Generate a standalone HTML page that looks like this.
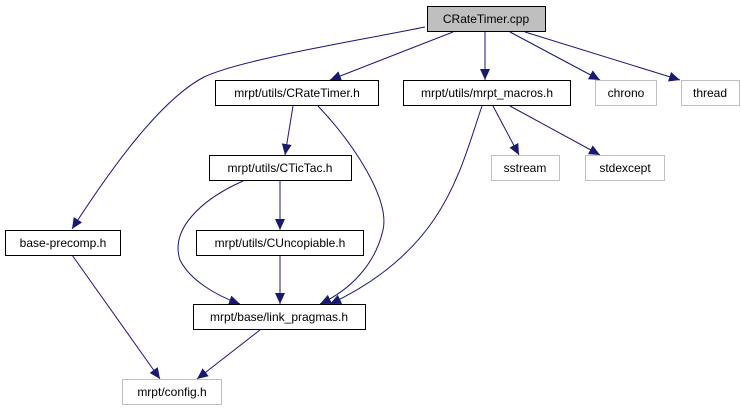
<!DOCTYPE html>
<html><head><meta charset="utf-8"><style>
html,body{margin:0;padding:0;background:#fff;width:741px;height:411px;overflow:hidden}
svg text{font-family:"Liberation Sans",sans-serif;font-size:12px;text-anchor:middle}
</style></head><body>
<svg width="741" height="411" viewBox="0 0 741 411" xmlns="http://www.w3.org/2000/svg">
<defs><marker id="a" markerUnits="userSpaceOnUse" markerWidth="12" markerHeight="10" refX="11" refY="5" orient="auto"><path d="M0,0 L11,5 L0,10 Z" fill="#191970"/></marker></defs>
<g fill="none" stroke="#191970" stroke-width="1" marker-end="url(#a)">
<path d="M425,27 C340,44 240,60 204,77 C160,100 110,170 72,229"/>
<path d="M453,32 L330,80"/>
<path d="M485,32 L485,80"/>
<path d="M510,32 L600,80"/>
<path d="M525,32 L680,80"/>
<path d="M293,106 L285,155"/>
<path d="M318,106 C355,145 390,200 383,230 C375,265 350,290 320,304"/>
<path d="M243,181 C200,200 170,230 180,260 C190,280 215,295 240,304"/>
<path d="M280,181 L280,230"/>
<path d="M280,255 L280,304"/>
<path d="M482,106 C460,170 445,250 330,304"/>
<path d="M493,106 L519,155"/>
<path d="M510,106 L600,155"/>
<path d="M72,255 L160,379"/>
<path d="M260,330 L197,379"/>
</g>
<g stroke-width="1">
<rect x="427.5" y="6.5" width="118" height="25" fill="#bfbfbf" stroke="#000"/>
<rect x="215.5" y="80.5" width="163" height="25" fill="#fff" stroke="#000"/>
<rect x="403.5" y="80.5" width="167" height="25" fill="#fff" stroke="#000"/>
<rect x="595.5" y="80.5" width="61" height="25" fill="#fff" stroke="#bfbfbf"/>
<rect x="681.5" y="80.5" width="58" height="25" fill="#fff" stroke="#bfbfbf"/>
<rect x="209.5" y="155.5" width="142" height="25" fill="#fff" stroke="#000"/>
<rect x="491.5" y="155.5" width="68" height="25" fill="#fff" stroke="#bfbfbf"/>
<rect x="585.5" y="155.5" width="79" height="25" fill="#fff" stroke="#bfbfbf"/>
<rect x="5.5" y="230.5" width="115" height="25" fill="#fff" stroke="#000"/>
<rect x="196.5" y="230.5" width="167" height="25" fill="#fff" stroke="#000"/>
<rect x="193.5" y="304.5" width="172" height="25" fill="#fff" stroke="#000"/>
<rect x="122.5" y="379.5" width="99" height="25" fill="#fff" stroke="#bfbfbf"/>
</g>
<g fill="#000">
<text x="486" y="23">CRateTimer.cpp</text>
<text x="297" y="97">mrpt/utils/CRateTimer.h</text>
<text x="487" y="97">mrpt/utils/mrpt_macros.h</text>
<text x="626" y="97">chrono</text>
<text x="710" y="97">thread</text>
<text x="280" y="172">mrpt/utils/CTicTac.h</text>
<text x="525" y="172">sstream</text>
<text x="625" y="172">stdexcept</text>
<text x="63" y="247">base-precomp.h</text>
<text x="280" y="247">mrpt/utils/CUncopiable.h</text>
<text x="279" y="321">mrpt/base/link_pragmas.h</text>
<text x="172" y="396">mrpt/config.h</text>
</g>
</svg>
</body></html>
